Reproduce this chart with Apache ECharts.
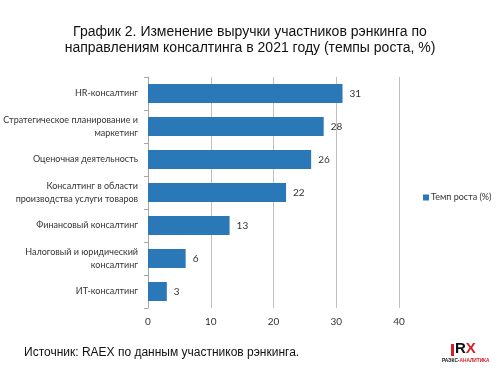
<!DOCTYPE html>
<html><head><meta charset="utf-8">
<script src="https://cdn.jsdelivr.net/npm/echarts@6/dist/echarts.min.js"></script>
<style>html,body{margin:0;padding:0;background:#fff}#c{width:500px;height:370px}</style>
</head><body><div id="c"></div>
<script>
const categories = ['ИТ-консалтинг','Налоговый и юридический\nконсалтинг','Финансовый консалтинг','Консалтинг в области\nпроизводства услуги товаров','Оценочная деятельность','Стратегическое планирование и\nмаркетинг','HR-консалтинг'];
const values = [3, 6, 13, 22, 26, 28, 31];
const seriesName = 'Темп роста (%)';
const titleText = 'График 2. Изменение выручки участников рэнкинга по\nнаправлениям консалтинга в 2021 году (темпы роста, %)';
const sourceText = 'Источник: RAEX по данным участников рэнкинга.';

const chart = echarts.init(document.getElementById('c'));
chart.setOption({
  animation: false,
  backgroundColor: '#fff',
  title: {text: titleText, left: 'center', top: 19, textStyle: {fontFamily: 'Liberation Sans', fontSize: 14, fontWeight: 'normal', color: '#111', lineHeight: 16}},
  legend: {data: [seriesName], orient: 'vertical', left: 418, top: 188, itemWidth: 6, itemHeight: 6, itemGap: 4, icon: 'rect',
    textStyle: {fontFamily: 'Lato', fontSize: 9, color: '#333', padding: [0,0,0,-3]}},
  grid: {left: 148, right: 101, top: 77, bottom: 62, containLabel: false, outerBoundsMode: 'none'},
  xAxis: {type: 'value', min: 0, max: 40, interval: 10,
    axisLine: {show: false}, axisTick: {show: false},
    splitLine: {lineStyle: {color: '#bfbfbf', width: 1}},
    axisLabel: {fontFamily: 'Lato', fontSize: 10, color: '#333', margin: 9}},
  yAxis: {type: 'category', data: categories,
    axisLine: {lineStyle: {color: '#a6a6a6'}},
    axisTick: {show: true, length: 4, lineStyle: {color: '#a6a6a6'}},
    axisLabel: {fontFamily: 'Lato', fontSize: 9, color: '#333', margin: 10, lineHeight: 13, align: 'right'}},
  series: [{name: seriesName, type: 'bar', data: values, barWidth: 19,
    itemStyle: {color: '#2b78b8'},
    label: {show: true, position: 'right', distance: 7, fontFamily: 'Lato', fontSize: 10, color: '#333'}}],
  graphic: [
    {type: 'text', left: 24, top: 347, style: {text: sourceText, fontFamily: 'Liberation Sans', fontSize: 12, fill: '#111'}},
    {type: 'rect', left: 451, top: 344, shape: {width: 3, height: 12}, style: {fill: '#d0202a'}},
    {type: 'text', left: 455, top: 341, style: {text: '{a|R}{b|X}', rich: {a: {fontFamily: 'Liberation Sans', fontWeight: 'bold', fontSize: 15, fill: '#111'}, b: {fontFamily: 'Liberation Sans', fontWeight: 'bold', fontSize: 15, fill: '#d0202a'}}}},
    {type: 'text', left: 442, top: 358, style: {text: '{a|РАЭКС-}{b|АНАЛИТИКА}', rich: {a: {fontFamily: 'Liberation Sans', fontWeight: 'bold', fontSize: 4.8, fill: '#111'}, b: {fontFamily: 'Liberation Sans', fontWeight: 'bold', fontSize: 4.8, fill: '#d0202a'}}}}
  ]
});
</script></body></html>
